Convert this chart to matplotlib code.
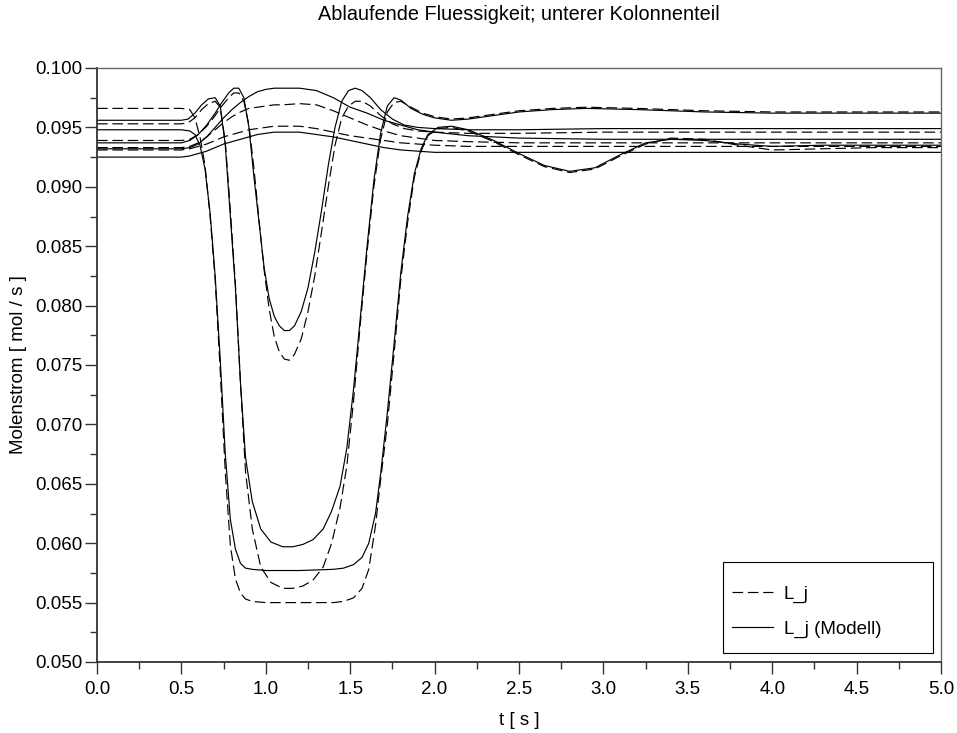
import matplotlib
matplotlib.use("Agg")
import matplotlib.pyplot as plt
from matplotlib.patches import Rectangle
from matplotlib.ticker import MultipleLocator, FormatStrFormatter

plt.rcParams['font.family'] = ['Liberation Sans', 'DejaVu Sans']

# --- data ---
# pair A: deepest dip
t_a = [0, 0.50, 0.55, 0.58, 0.61, 0.64, 0.67, 0.70, 0.73, 0.76, 0.79, 0.82, 0.85, 0.88, 0.92,
       1.0, 1.2, 1.4, 1.46, 1.52, 1.57, 1.61, 1.65, 1.68, 1.72, 1.76, 1.80, 1.84, 1.88, 1.92,
       1.96, 2.02, 2.1, 2.2, 2.35, 2.5, 2.65, 2.8, 2.95, 3.1, 3.25, 3.4, 3.6, 3.8, 4.0, 4.3, 4.6, 5.0]
L_a = [0.0966, 0.0966, 0.0965, 0.0958, 0.0942, 0.0918, 0.0875, 0.0822, 0.0745, 0.0660, 0.0598,
       0.0570, 0.0558, 0.0553, 0.0551, 0.0550, 0.0550, 0.0550, 0.0551, 0.0554, 0.0562, 0.0578,
       0.0615, 0.0653, 0.0700, 0.0760, 0.0822, 0.0870, 0.0908, 0.0930, 0.0943, 0.0949, 0.0950,
       0.0947, 0.0938, 0.0927, 0.0917, 0.0912, 0.0915, 0.0926, 0.0936, 0.0941, 0.0940, 0.0935,
       0.0931, 0.0932, 0.0933, 0.0933]
L_a_mod = [0.0948, 0.0948, 0.0947, 0.0944, 0.0935, 0.0915, 0.0878, 0.0825, 0.0755, 0.0675, 0.0620,
           0.0595, 0.0583, 0.0579, 0.0578, 0.0577, 0.0577, 0.0578, 0.0579, 0.0582, 0.0588, 0.0600,
           0.0625, 0.0658, 0.0710, 0.0768, 0.0828, 0.0875, 0.0911, 0.0932, 0.0944, 0.0950, 0.0951,
           0.0948, 0.0939, 0.0928, 0.0918, 0.0913, 0.0916, 0.0927, 0.0937, 0.0940, 0.0939, 0.0936,
           0.0934, 0.0935, 0.0935, 0.0935]

# pair B: medium dip
t_b = [0, 0.50, 0.54, 0.58, 0.62, 0.66, 0.70, 0.73, 0.76, 0.79, 0.82, 0.85, 0.88, 0.92, 0.97,
       1.03, 1.10, 1.16, 1.22, 1.28, 1.34, 1.39, 1.44, 1.48, 1.52, 1.56, 1.60, 1.64, 1.68, 1.72,
       1.76, 1.80, 1.86, 1.93, 2.0, 2.1, 2.2, 2.35, 2.5, 2.7, 2.9, 3.2, 3.6, 4.0, 5.0]
L_b = [0.0953, 0.0953, 0.0954, 0.0958, 0.0965, 0.0970, 0.0972, 0.0967, 0.0938, 0.0880, 0.0818,
       0.0735, 0.0660, 0.0612, 0.0580, 0.0567, 0.0562, 0.0562, 0.0564, 0.0569, 0.0580, 0.0600,
       0.0630, 0.0665, 0.0720, 0.0785, 0.0845, 0.0900, 0.0940, 0.0963, 0.0971, 0.0972, 0.0967,
       0.0962, 0.0959, 0.0957, 0.0958, 0.0961, 0.0964, 0.0966, 0.0967, 0.0966, 0.0964, 0.0963,
       0.0963]
L_b_mod = [0.0956, 0.0956, 0.0957, 0.0962, 0.0969, 0.0974, 0.0975, 0.0968, 0.0935, 0.0875, 0.0815,
           0.0735, 0.0672, 0.0635, 0.0612, 0.0601, 0.0597, 0.0597, 0.0599, 0.0603, 0.0612, 0.0627,
           0.0648, 0.0680, 0.0730, 0.0790, 0.0850, 0.0905, 0.0945, 0.0968, 0.0975, 0.0973, 0.0966,
           0.0961, 0.0958, 0.0956, 0.0957, 0.0960, 0.0963, 0.0965, 0.0966, 0.0965, 0.0963, 0.0962,
           0.0962]

# pair C: shallow dip
t_c = [0, 0.50, 0.55, 0.60, 0.65, 0.70, 0.74, 0.78, 0.81, 0.84, 0.87, 0.90, 0.93, 0.96, 0.99,
       1.02, 1.05, 1.08, 1.11, 1.14, 1.17, 1.21, 1.25, 1.29, 1.33, 1.37, 1.41, 1.45, 1.49, 1.53,
       1.57, 1.62, 1.68, 1.75, 1.82, 1.90, 2.0, 2.2, 2.5, 3.0, 4.0, 5.0]
L_c = [0.0939, 0.0939, 0.0940, 0.0944, 0.0951, 0.0960, 0.0968, 0.0975, 0.0979, 0.0979, 0.0972,
       0.0952, 0.0915, 0.0872, 0.0830, 0.0797, 0.0774, 0.0761, 0.0755, 0.0754, 0.0759, 0.0772,
       0.0795, 0.0825, 0.0862, 0.0900, 0.0935, 0.0958, 0.0968, 0.0972, 0.0972, 0.0968, 0.0960,
       0.0953, 0.0949, 0.0947, 0.0946, 0.0945, 0.0945, 0.0946, 0.0946, 0.0946]
L_c_mod = [0.0937, 0.0937, 0.0939, 0.0944, 0.0952, 0.0962, 0.0971, 0.0979, 0.0983, 0.0983, 0.0975,
           0.0950, 0.0908, 0.0870, 0.0832, 0.0806, 0.0791, 0.0783, 0.0779, 0.0779, 0.0783, 0.0795,
           0.0815, 0.0845, 0.0880, 0.0918, 0.0950, 0.0972, 0.0981, 0.0983, 0.0981, 0.0975, 0.0965,
           0.0957, 0.0952, 0.0950, 0.0949, 0.0948, 0.0948, 0.0949, 0.0949, 0.0949]

# pairs D and E: no dip, only a bump
t_de = [0, 0.50, 0.55, 0.60, 0.65, 0.70, 0.75, 0.80, 0.85, 0.90, 0.95, 1.0, 1.05, 1.1, 1.2,
        1.3, 1.4, 1.5, 1.6, 1.7, 1.8, 1.9, 2.0, 2.2, 2.5, 3.0, 3.5, 4.0, 5.0]
L_d = [0.0933, 0.0933, 0.0934, 0.0937, 0.0942, 0.0948, 0.0954, 0.0959, 0.0963, 0.0966, 0.0967,
       0.0968, 0.0969, 0.0969, 0.0970, 0.0969, 0.0964, 0.0958, 0.0952, 0.0947, 0.0943, 0.0941,
       0.0939, 0.0938, 0.0937, 0.0937, 0.0937, 0.0937, 0.0937]
L_d_mod = [0.0932, 0.0932, 0.0933, 0.0936, 0.0942, 0.0950, 0.0958, 0.0965, 0.0971, 0.0976, 0.0980,
           0.0982, 0.0983, 0.0983, 0.0983, 0.0981, 0.0975, 0.0967, 0.0962, 0.0956, 0.0952, 0.0948,
           0.0946, 0.0943, 0.0941, 0.0940, 0.0940, 0.0940, 0.0940]
L_e = [0.0931, 0.0931, 0.0932, 0.0934, 0.0936, 0.0939, 0.0942, 0.0944, 0.0946, 0.0948, 0.0949,
       0.0950, 0.0951, 0.0951, 0.0951, 0.0949, 0.0946, 0.0943, 0.0941, 0.0939, 0.0937, 0.0936,
       0.0935, 0.0934, 0.0934, 0.0934, 0.0934, 0.0934, 0.0934]
L_e_mod = [0.0925, 0.0925, 0.0926, 0.0928, 0.0930, 0.0933, 0.0936, 0.0938, 0.0940, 0.0942, 0.0944,
           0.0945, 0.0946, 0.0946, 0.0946, 0.0944, 0.0942, 0.0939, 0.0936, 0.0933, 0.0931, 0.0930,
           0.0929, 0.0929, 0.0929, 0.0929, 0.0929, 0.0929, 0.0929]

measured = [(t_a, L_a), (t_b, L_b), (t_c, L_c), (t_de, L_d), (t_de, L_e)]
model = [(t_a, L_a_mod), (t_b, L_b_mod), (t_c, L_c_mod), (t_de, L_d_mod), (t_de, L_e_mod)]

FS = 13.5

fig = plt.figure(figsize=(9.57, 7.33), dpi=100)
ax = fig.add_axes([97 / 957, 71 / 733, 844 / 957, 594 / 733])

dash = (0, (9, 4))
for i, (t, v) in enumerate(measured):
    ax.plot(t, v, color='black', lw=0.85, linestyle=dash, label='L_j' if i == 0 else None)
for i, (t, v) in enumerate(model):
    ax.plot(t, v, color='black', lw=0.85, label='L_j (Modell)' if i == 0 else None)

ax.set_xlim(0, 5)
ax.set_ylim(0.05, 0.1)
ax.xaxis.set_major_locator(MultipleLocator(0.5))
ax.xaxis.set_minor_locator(MultipleLocator(0.25))
ax.yaxis.set_major_locator(MultipleLocator(0.005))
ax.yaxis.set_minor_locator(MultipleLocator(0.0025))
ax.xaxis.set_major_formatter(FormatStrFormatter('%.1f'))
ax.yaxis.set_major_formatter(FormatStrFormatter('%.3f'))
ax.tick_params(which='major', direction='out', length=8.5, width=1, labelsize=FS, pad=2,
               color='#333333')
ax.tick_params(which='minor', direction='out', length=5, width=1, color='#333333')
ax.tick_params(axis='x', which='major', pad=5)

for side in ['left', 'bottom']:
    ax.spines[side].set_color('#333333')
    ax.spines[side].set_linewidth(1.3)
for side in ['top', 'right']:
    ax.spines[side].set_color('#666666')
    ax.spines[side].set_linewidth(1.0)

ax.set_xlabel('t [ s ]', fontsize=FS, labelpad=10)
ax.set_ylabel('Molenstrom [ mol / s ]', fontsize=FS, labelpad=6)
fig.text(519 / 957, 1 - 15 / 733, 'Ablaufende Fluessigkeit; unterer Kolonnenteil',
         ha='center', va='center', fontsize=14.3)

# legend box drawn by hand, entries placed inside it
ax.add_patch(Rectangle((0.7417, 0.0152), 0.2488, 0.1532, transform=ax.transAxes,
                       facecolor='white', edgecolor='black', lw=0.8, zorder=5))
leg = ax.legend(loc='center left', bbox_to_anchor=(0.7524, 0.085), frameon=False,
                fontsize=FS, handlelength=2.2, handletextpad=0.55, labelspacing=0.95,
                borderpad=0, borderaxespad=0)
leg.set_zorder(6)

fig.savefig('out.png', dpi=100)
